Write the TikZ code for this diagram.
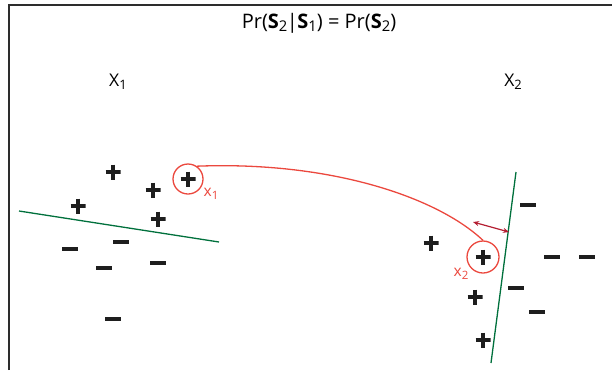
\documentclass[tikz,border=0pt]{standalone}
\usepackage{fontspec}
\usepackage{graphicx}
\setmainfont{Open Sans}
\usetikzlibrary{arrows.meta}
\newcommand\mysub[1]{\raisebox{-0.35ex}{\scalebox{0.74}{#1}}}
\definecolor{frame}{RGB}{45,45,45}
\definecolor{ptred}{RGB}{235,72,62}
\definecolor{sepgreen}{RGB}{0,112,60}
\definecolor{darkred}{RGB}{180,30,50}
\definecolor{signink}{RGB}{30,30,30}
\tikzset{
  pl/.style={minimum size=15pt, inner sep=0pt, path picture={
      \draw[signink, line width=3.2pt] (path picture bounding box.north) -- (path picture bounding box.south)
        (path picture bounding box.west) -- (path picture bounding box.east);}},
  mi/.style={minimum width=16pt, minimum height=15pt, inner sep=0pt, path picture={
      \draw[signink, line width=3.2pt] (path picture bounding box.west) -- (path picture bounding box.east);}},
  ring/.style={draw=ptred, circle, line width=1.3pt, inner sep=0pt},
  lab/.style={font=\fontsize{20}{22}\selectfont, inner sep=0pt},
  xlab/.style={font=\fontsize{17.5}{19}\selectfont, inner sep=0pt},
  redlab/.style={text=ptred, font=\fontsize{15.5}{17}\selectfont, inner sep=0pt},
  sep/.style={draw=sepgreen, line width=1.3pt},
}
\begin{document}
\begin{tikzpicture}[x=1pt, y=-1pt]
\useasboundingbox (0,0) rectangle (612,370);
% frame
\coordinate (fa) at (8.5,370);
\coordinate (fb) at (8.5,4.5);
\coordinate (fc) at (612,4.5);
\draw[frame, line width=2pt] (fa) -- (fb) -- (fc);
% labels
\node[lab] (title) at (319,23) {Pr(\textbf{S}\mysub{2}\kern-0.5pt|\kern-0.5pt\textbf{S}\mysub{1}) = Pr(\textbf{S}\mysub{2})};
\node[xlab] (X1) at (118,82) {X\mysub{1}};
\node[xlab] (X2) at (513,82) {X\mysub{2}};
% left cluster
\node[pl] (lp1) at (113,172) {};
\node[pl] (lp2) at (153,190) {};
\node[pl] (lp3) at (78,206) {};
\node[pl] (lp4) at (158,219) {};
\node[pl] (lp5) at (188,179) {};
\node[ring, minimum size=30pt] (c1) at (188,179) {};
\node[redlab] (x1) at (211,194) {x\mysub{1}};
\node[mi] (lm1) at (70,249) {};
\node[mi] (lm2) at (121,242) {};
\node[mi] (lm3) at (104,268) {};
\node[mi] (lm4) at (158,263) {};
\node[mi] (lm5) at (113,319) {};
\coordinate (g1a) at (19,211);
\coordinate (g1b) at (219,242);
\draw[sep] (g1a) -- (g1b);
% right cluster
\node[pl] (rp1) at (431,243) {};
\node[pl] (rp2) at (483,257) {};
\node[ring, minimum size=32pt] (c2) at (483,257) {};
\node[redlab] (x2) at (461,274) {x\mysub{2}};
\node[pl] (rp3) at (475,297) {};
\node[pl] (rp4) at (483,340) {};
\node[mi] (rm1) at (528,205) {};
\node[mi] (rm2) at (552,257) {};
\node[mi] (rm3) at (587,257) {};
\node[mi] (rm4) at (516,288) {};
\node[mi] (rm5) at (537,312) {};
\coordinate (g2a) at (516,172);
\coordinate (g2b) at (491,363);
\draw[sep] (g2a) -- (g2b);
% margin arrow
\coordinate (ma) at (473,222);
\coordinate (mb) at (509,232);
\draw[darkred, line width=1.2pt, {Stealth[length=6pt,width=5pt]}-{Stealth[length=6pt,width=5pt]}] (ma) -- (mb);
% mapping curve
\draw[ptred, line width=1.3pt] (c1.55) .. controls (330,161) and (437,197) .. (c2.north);
\end{tikzpicture}
\end{document}
